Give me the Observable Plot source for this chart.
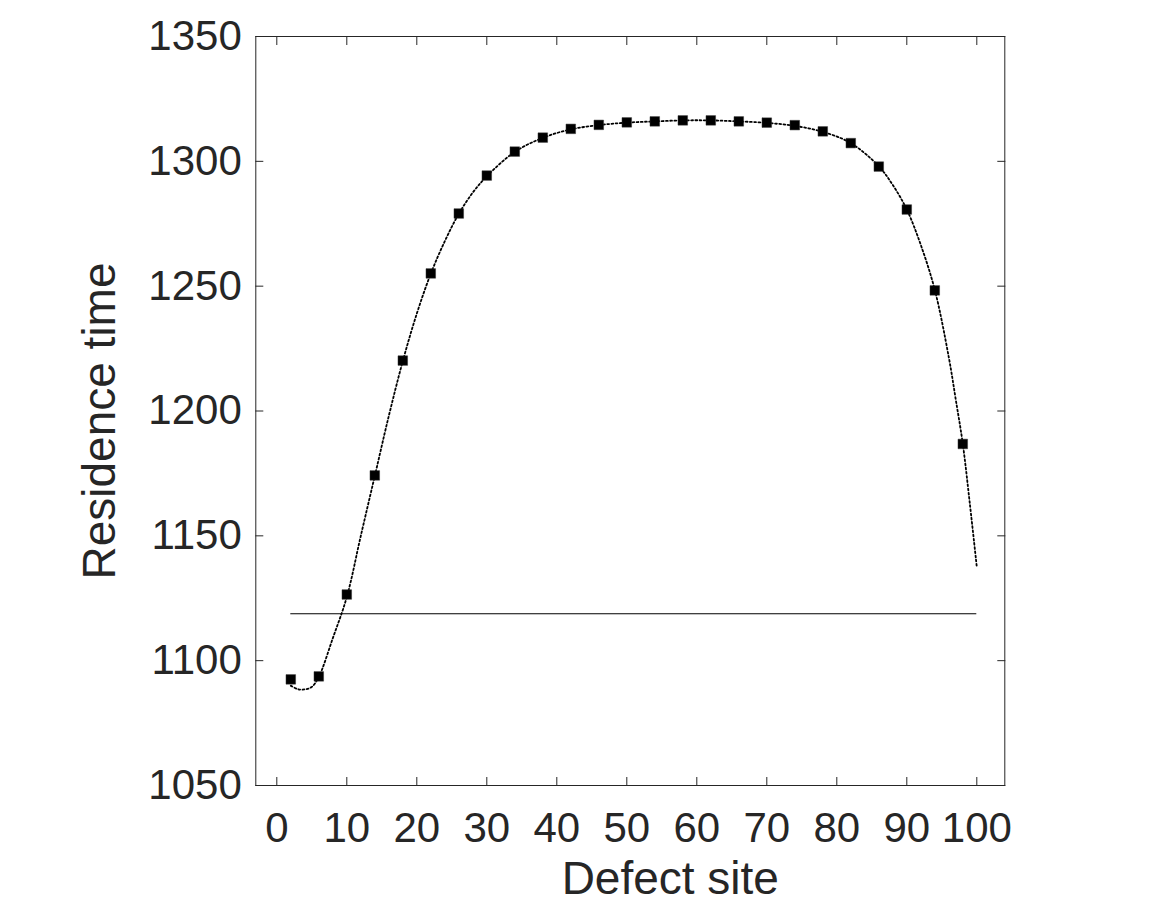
<!DOCTYPE html>
<html><head><meta charset="utf-8">
<script src="https://cdn.jsdelivr.net/npm/d3@7"></script>
<script src="https://cdn.jsdelivr.net/npm/@observablehq/plot@0.6"></script>
<style>body{margin:0;background:#fff;} #chart svg{display:block;}</style>
</head><body><div id="chart"></div>
<script>
// Measured residence times at defect sites
const siteX = [2, 6, 10, 14, 18, 22, 26, 30, 34, 38, 42, 46, 50, 54, 58, 62, 66, 70, 74, 78, 82, 86, 90, 94, 98];
const residence = [1092.5, 1093.7, 1126.5, 1174.2, 1220.2, 1255.1, 1279.1, 1294.3, 1303.9, 1309.5, 1313.0, 1314.6, 1315.6, 1316.0, 1316.4, 1316.4, 1316.0, 1315.5, 1314.5, 1312.0, 1307.3, 1297.9, 1280.7, 1248.3, 1186.8];

// Fitted curve (dotted)
const fitX = [2, 3, 4, 5, 6, 8, 10, 12, 14, 16, 18, 20, 22, 24, 26, 28, 30, 34, 38, 42, 46, 50, 54, 58, 62, 66, 70, 74, 78, 82, 86, 88, 90, 92, 94, 96, 97, 98, 99, 100];
const fitY = [1090.0, 1088.6, 1088.5, 1089.5, 1093.5, 1109.0, 1125.5, 1150.0, 1174.0, 1198.0, 1220.0, 1239.0, 1255.0, 1268.0, 1279.0, 1287.5, 1294.0, 1303.8, 1309.4, 1312.8, 1314.5, 1315.5, 1316.0, 1316.4, 1316.4, 1316.0, 1315.4, 1314.2, 1311.8, 1307.3, 1298.0, 1290.5, 1280.7, 1266.5, 1248.5, 1221.5, 1204.5, 1186.8, 1163.0, 1137.5];

// Reference (horizontal) line
const refLevel = 1118.8;
const refRange = [2, 100];

// Axis ticks
const xTicks = [0, 10, 20, 30, 40, 50, 60, 70, 80, 90, 100];
const yTicks = [1050, 1100, 1150, 1200, 1250, 1300, 1350];
const xDomain = [-3, 104];
const yDomain = [1050, 1350];
const xLabel = "Defect site";
const yLabel = "Residence time";

const points = siteX.map((x, i) => ({x, y: residence[i]}));
const fit = fitX.map((x, i) => ({x, y: fitY[i]}));

const ink = "#262626";
const font = "'Liberation Sans', Arial, Helvetica, sans-serif";
const plain = d => String(d);

const chart = Plot.plot({
  width: 1170, height: 907,
  marginLeft: 255.3, marginRight: 165.7, marginTop: 36, marginBottom: 122,
  style: {fontFamily: font, background: "#fff", color: ink},
  x: {domain: xDomain},
  y: {domain: yDomain},
  marks: [
    Plot.frame({stroke: ink, strokeWidth: 1}),
    Plot.axisX(xTicks, {anchor: "bottom", tickSize: -8, tickPadding: 35, fontSize: 42, tickFormat: plain, label: null}),
    Plot.axisX(xTicks, {anchor: "top", tickSize: -8, tickFormat: () => "", label: null}),
    Plot.axisY(yTicks, {anchor: "left", tickSize: -8, tickPadding: 22, fontSize: 42, tickFormat: plain, label: null}),
    Plot.axisY(yTicks, {anchor: "right", tickSize: -8, tickFormat: () => "", label: null}),
    Plot.ruleY([refLevel], {x1: refRange[0], x2: refRange[1], stroke: "#000", strokeWidth: 1.2}),
    Plot.line(fit, {x: "x", y: "y", curve: "catmull-rom", stroke: "#000", strokeWidth: 1.8, strokeDasharray: "1.8,2.4"}),
    Plot.dot(points, {x: "x", y: "y", symbol: "square", r: 5.4, fill: "#000", stroke: "#333", strokeWidth: 0.5}),
    Plot.text([xLabel], {frameAnchor: "bottom", dx: 40, dy: 108, fontSize: 46, fill: ink, textAnchor: "middle", lineAnchor: "bottom"}),
    Plot.text([yLabel], {frameAnchor: "left", rotate: -90, dx: -156, dy: 10, fontSize: 46, fill: ink, textAnchor: "middle", lineAnchor: "middle"})
  ]
});
document.getElementById("chart").appendChild(chart);
</script>
</body></html>
